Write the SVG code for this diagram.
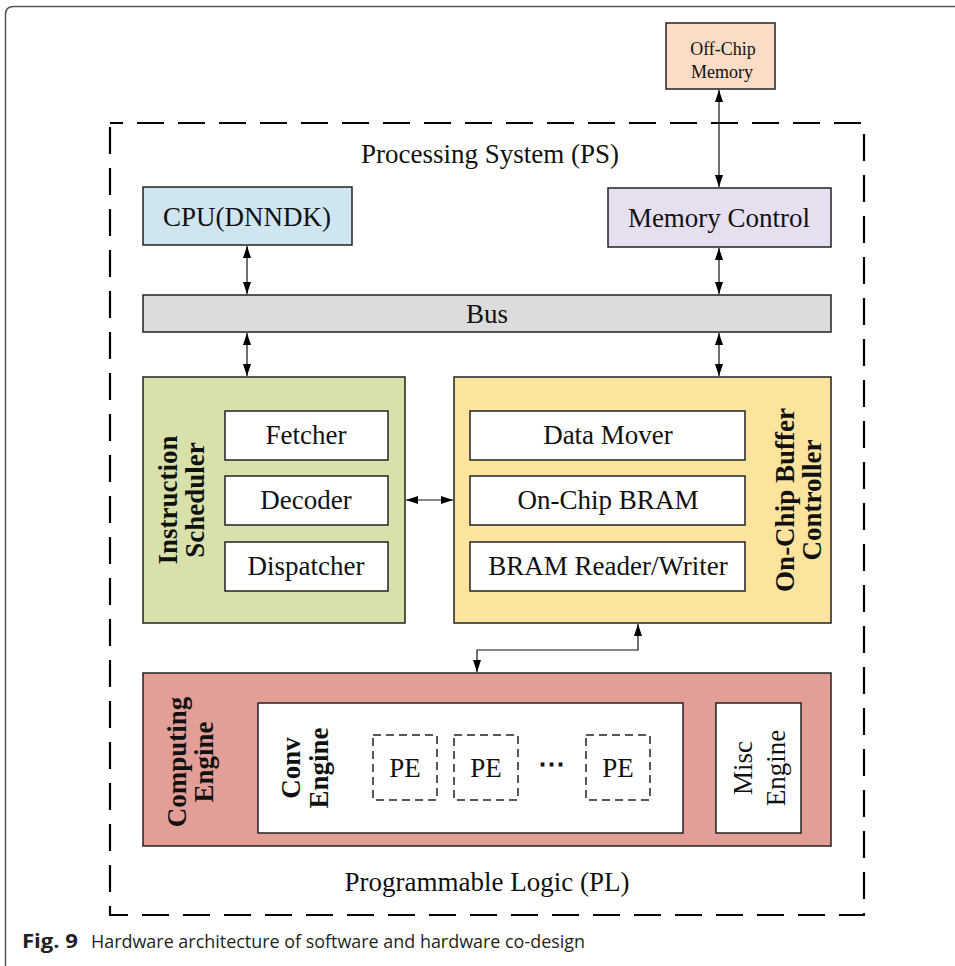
<svg xmlns="http://www.w3.org/2000/svg" width="955" height="966" viewBox="0 0 955 966">
<defs>
<marker id="ah" viewBox="0 0 12 8" refX="12" refY="4" markerWidth="12" markerHeight="8" markerUnits="userSpaceOnUse" orient="auto-start-reverse">
<path d="M0,0 L12,4 L0,8 Z" fill="#000"/>
</marker>
</defs>
<style>
.box{stroke:#222;stroke-width:1.5}
.t{font-family:"Liberation Serif","Times New Roman",serif;font-size:27px;fill:#111;text-anchor:middle}
.b{font-weight:bold}
.w{fill:#fff;stroke:#222;stroke-width:1.5}
.pe{fill:#fff;stroke:#222;stroke-width:1.5;stroke-dasharray:8 5}
.c{fill:none;stroke:#111;stroke-width:1.2}
</style>
<rect width="955" height="966" fill="#fff"/>
<path d="M5.5,966 L5.5,14.5 Q5.5,6.5 13.5,6.5 L955,6.5" fill="none" stroke="#555" stroke-width="1.5"/>
<g id="ps-frame">
<rect x="110" y="123" width="754" height="792" fill="none" stroke="#000" stroke-width="2.2" stroke-dasharray="27 14" stroke-dashoffset="14"/>
<text class="t" x="490" y="163">Processing System (PS)</text>
<text class="t" x="487" y="891">Programmable Logic (PL)</text>
</g>
<g id="offchip">
<rect class="box" x="666" y="23" width="109" height="66" fill="#fcdcc4"/>
<text class="t" x="723" y="55" style="font-size:18px">Off-Chip</text>
<text class="t" x="722" y="78" style="font-size:18px">Memory</text>
</g>
<g id="cpu">
<rect class="box" x="143" y="187" width="209" height="58" fill="#cfe5f0"/>
<text class="t" x="247" y="226">CPU(DNNDK)</text>
</g>
<g id="memctrl">
<rect class="box" x="608" y="188" width="223" height="59" fill="#e6dff0"/>
<text class="t" x="719" y="227">Memory Control</text>
</g>
<g id="bus">
<rect class="box" x="143" y="295" width="688" height="37" fill="#dcdcdc"/>
<text class="t" x="487" y="323">Bus</text>
</g>
<g id="scheduler">
<rect class="box" x="143" y="377" width="262" height="246" fill="#d8e1a9"/>
<text class="t b" transform="translate(177,500) rotate(-90)">Instruction</text>
<text class="t b" transform="translate(204,500) rotate(-90)">Scheduler</text>
<rect class="w" x="225" y="411" width="163" height="49"/>
<text class="t" x="306" y="444">Fetcher</text>
<rect class="w" x="225" y="476" width="163" height="49"/>
<text class="t" x="306" y="509">Decoder</text>
<rect class="w" x="225" y="542" width="163" height="49"/>
<text class="t" x="306" y="575">Dispatcher</text>
</g>
<g id="buffer">
<rect class="box" x="454" y="377" width="377" height="246" fill="#fde49c"/>
<text class="t b" transform="translate(794,500) rotate(-90)">On-Chip Buffer</text>
<text class="t b" transform="translate(821,500) rotate(-90)">Controller</text>
<rect class="w" x="470" y="411" width="275" height="49"/>
<text class="t" x="608" y="444">Data Mover</text>
<rect class="w" x="470" y="476" width="275" height="49"/>
<text class="t" x="608" y="509">On-Chip BRAM</text>
<rect class="w" x="470" y="542" width="275" height="49"/>
<text class="t" x="608" y="575">BRAM Reader/Writer</text>
</g>
<g id="computing">
<rect class="box" x="143" y="673" width="688" height="173" fill="#e39f97"/>
<text class="t b" transform="translate(186,762) rotate(-90)">Computing</text>
<text class="t b" transform="translate(213,762) rotate(-90)">Engine</text>
<rect class="w" x="258" y="703" width="425" height="130"/>
<text class="t b" transform="translate(300,768) rotate(-90)">Conv</text>
<text class="t b" transform="translate(328,768) rotate(-90)">Engine</text>
<rect class="pe" x="373" y="735" width="64" height="65"/>
<text class="t" x="405" y="777">PE</text>
<rect class="pe" x="454" y="735" width="64" height="65"/>
<text class="t" x="486" y="777">PE</text>
<text class="t b" x="551" y="773">⋯</text>
<rect class="pe" x="586" y="735" width="64" height="65"/>
<text class="t" x="618" y="777">PE</text>
<rect class="w" x="716" y="703" width="85" height="130"/>
<text class="t" transform="translate(752,768) rotate(-90)">Misc</text>
<text class="t" transform="translate(785,768) rotate(-90)">Engine</text>
</g>
<g id="connectors">
<line class="c" x1="719" y1="90" x2="719" y2="187" marker-start="url(#ah)" marker-end="url(#ah)"/>
<line class="c" x1="247" y1="246" x2="247" y2="294" marker-start="url(#ah)" marker-end="url(#ah)"/>
<line class="c" x1="719" y1="248" x2="719" y2="294" marker-start="url(#ah)" marker-end="url(#ah)"/>
<line class="c" x1="247" y1="333" x2="247" y2="376" marker-start="url(#ah)" marker-end="url(#ah)"/>
<line class="c" x1="719" y1="333" x2="719" y2="376" marker-start="url(#ah)" marker-end="url(#ah)"/>
<line class="c" x1="406" y1="500" x2="453" y2="500" marker-start="url(#ah)" marker-end="url(#ah)"/>
<polyline class="c" points="638,624 638,650 477,650 477,672" marker-start="url(#ah)" marker-end="url(#ah)"/>
</g>
<g id="caption" font-family="'Open Sans','Noto Sans',sans-serif" font-size="18" fill="#231f20">
<text x="22" y="948" font-weight="bold" font-size="19" textLength="56" lengthAdjust="spacingAndGlyphs">Fig. 9</text>
<text x="91" y="948" textLength="494" lengthAdjust="spacingAndGlyphs">Hardware architecture of software and hardware co-design</text>
</g>
</svg>
